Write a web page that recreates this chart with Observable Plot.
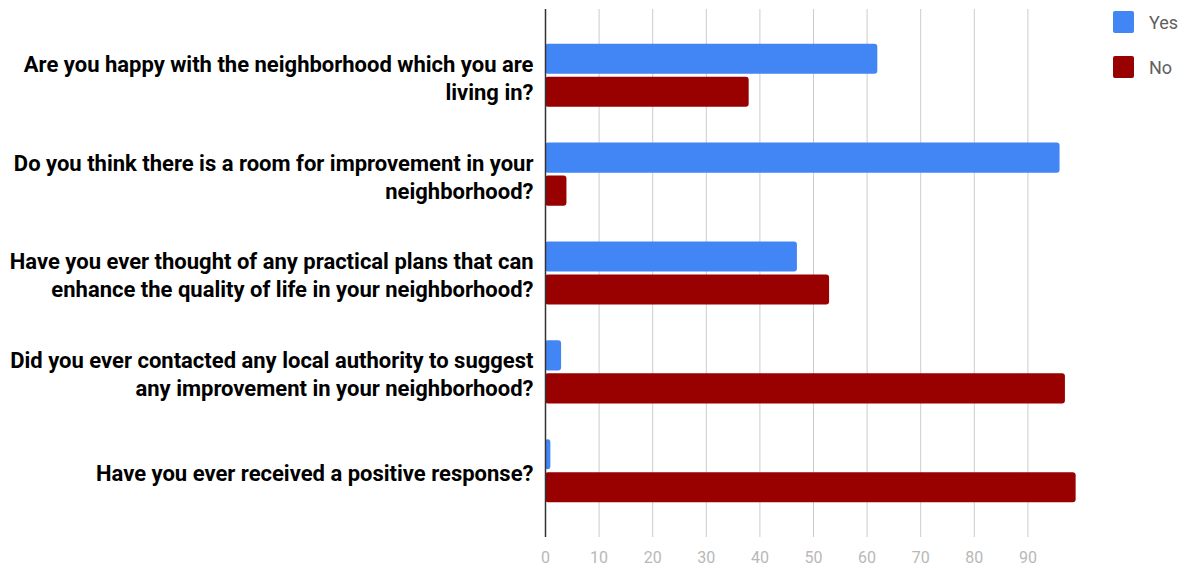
<!DOCTYPE html>
<html>
<head>
<meta charset="utf-8">
<script src="https://cdn.jsdelivr.net/npm/d3@7"></script>
<script src="https://cdn.jsdelivr.net/npm/@observablehq/plot@0.6"></script>
<style>
  body { margin: 0; background: #fff; font-family: Roboto, sans-serif; }
  #wrap { position: relative; width: 1189px; height: 569px; }
  #legend { position: absolute; left: 1113px; top: 11px; }
  .item { position: absolute; left: 0; display: flex; align-items: center; white-space: nowrap; }
  .sw { width: 21px; height: 22px; border-radius: 2px; margin-right: 15px; }
  .lab { font-size: 18px; color: #5f5f5f; }
</style>
</head>
<body>
<div id="wrap"><div id="legend"></div></div>
<script>
const questions = [
  "Are you happy with the neighborhood which you are\nliving in?",
  "Do you think there is a room for improvement in your\nneighborhood?",
  "Have you ever thought of any practical plans that can\nenhance the quality of life in your neighborhood?",
  "Did you ever contacted any local authority to suggest\nany improvement in your neighborhood?",
  "Have you ever received a positive response?"
];
const yesValues = [62, 96, 47, 3, 1];
const noValues = [38, 4, 53, 97, 99];
const seriesNames = ["Yes", "No"];
const seriesColors = ["#4285f4", "#990000"];
const xTicks = [0, 10, 20, 30, 40, 50, 60, 70, 80, 90];

const rows = questions.map((q, i) => ({q, yes: yesValues[i], no: noValues[i]}));

const chart = Plot.plot({
  width: 1189,
  height: 569,
  marginLeft: 545,
  marginRight: 108,
  marginTop: 9,
  marginBottom: 32,
  style: {fontFamily: "Roboto, sans-serif", background: "#fff"},
  x: {domain: [0, 100], axis: null},
  y: {domain: questions, paddingInner: 0, paddingOuter: 0.17, round: false, axis: null},
  marks: [
    Plot.gridX(xTicks.filter(d => d > 0), {stroke: "#cccccc", strokeOpacity: 1, strokeWidth: 1}),
    Plot.axisX(xTicks, {tickSize: 0, tickPadding: 14, fontSize: 16, color: "#b8b8b8", anchor: "bottom"}),
    Plot.barX(rows, {x: "yes", y: "q", fill: seriesColors[0], insetTop: 17.9, insetBottom: 50.9, rx: 3}),
    Plot.barX(rows, {x: "no", y: "q", fill: seriesColors[1], insetTop: 50.9, insetBottom: 17.9, rx: 3}),
    Plot.ruleX([0], {stroke: "#333333", strokeWidth: 1.5}),
    Plot.text(rows, {x: 0, y: "q", text: "q", textAnchor: "end", dx: -12, dy: 1, fontSize: 22, fontWeight: "bold", fill: "#000", lineHeight: 1.27})
  ]
});
document.getElementById("wrap").prepend(chart);

const legend = document.getElementById("legend");
seriesNames.forEach((name, i) => {
  const item = document.createElement("div");
  item.className = "item";
  item.style.top = (i * 45) + "px";
  item.innerHTML = `<div class="sw" style="background:${seriesColors[i]}"></div><span class="lab">${name}</span>`;
  legend.appendChild(item);
});
</script>
</body>
</html>
